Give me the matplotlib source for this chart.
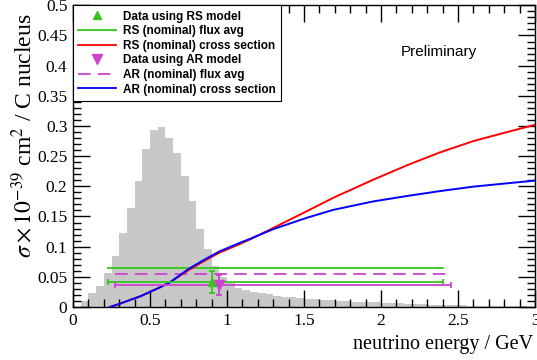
import numpy as np
import matplotlib
matplotlib.use("Agg")
import matplotlib.pyplot as plt
from matplotlib.ticker import MultipleLocator
from matplotlib.lines import Line2D

# ---------------- data ----------------
flux_edges_start = 0.05
flux_bin_width = 0.05
flux_values = [0.010, 0.023, 0.035, 0.056, 0.085, 0.123, 0.164, 0.208, 0.262, 0.294,
               0.299, 0.280, 0.256, 0.217, 0.176, 0.130, 0.096, 0.068, 0.050,
               0.039, 0.032, 0.028, 0.025, 0.023, 0.021, 0.019, 0.017, 0.016, 0.015,
               0.014, 0.013, 0.012, 0.011, 0.010, 0.0095, 0.009, 0.0085, 0.008, 0.0075,
               0.007, 0.0065, 0.006, 0.0055, 0.005, 0.0045, 0.004, 0.0035, 0.003, 0.0028,
               0.0025, 0.0022, 0.002, 0.0018, 0.0016, 0.0014, 0.0012, 0.001, 0.0009, 0.0008]

energy = [0.24, 0.30, 0.37, 0.44, 0.50, 0.56, 0.63, 0.69, 0.75, 0.85, 0.95, 1.08, 1.15,
          1.30, 1.52, 1.69, 1.95, 2.17, 2.38, 2.60, 2.82, 3.0]
rs_xsec = [0.0, 0.005, 0.0116, 0.018, 0.025, 0.032, 0.041, 0.051, 0.061, 0.076, 0.090, 0.104,
           0.112, 0.131, 0.159, 0.181, 0.211, 0.235, 0.256, 0.275, 0.290, 0.302]
ar_xsec = [0.0, 0.005, 0.0116, 0.018, 0.025, 0.032, 0.041, 0.052, 0.063, 0.078, 0.092, 0.106,
           0.113, 0.129, 0.148, 0.161, 0.175, 0.184, 0.192, 0.1995, 0.205, 0.2095]

rs_fluxavg_y = 0.064
rs_fluxavg_x = [0.23, 2.40]
ar_fluxavg_y = 0.054
ar_fluxavg_x = [0.27, 2.45]

rs_data_x, rs_data_y = 0.90, 0.041
rs_data_yerr = 0.018
rs_data_xerr = [0.675, 1.505]
ar_data_x, ar_data_y = 0.95, 0.036
ar_data_yerr = 0.0165
ar_data_xerr = [0.68, 1.505]

legend_labels = ["Data using RS model", "RS (nominal) flux avg", "RS (nominal) cross section",
                 "Data using AR model", "AR (nominal) flux avg", "AR (nominal) cross section"]

green = "#33c61e"
magenta = "#cc44cc"

# ---------------- figure ----------------
plt.rcParams['mathtext.fontset'] = 'stix'
fig = plt.figure(figsize=(5.37, 3.6), dpi=100)
ax = fig.add_axes([73/537, 1-307/360, 462/537, 301.7/360])

edges = flux_edges_start + flux_bin_width*np.arange(len(flux_values)+1)
ax.stairs(flux_values, edges, fill=True, color="#c8c8c8", lw=0, zorder=1)

ax.plot(energy, rs_xsec, color="red", lw=1.4, zorder=3)
ax.plot(energy, ar_xsec, color="blue", lw=1.4, zorder=3)

ax.plot(rs_fluxavg_x, [rs_fluxavg_y]*2, color=green, lw=1.3, zorder=2)
ax.plot(ar_fluxavg_x, [ar_fluxavg_y]*2, color=magenta, lw=1.3, ls=(0, (7, 4)), zorder=2)

ax.errorbar([rs_data_x], [rs_data_y], yerr=rs_data_yerr,
            xerr=[[rs_data_xerr[0]], [rs_data_xerr[1]]], fmt='^', color=green,
            ms=6, lw=1.3, capsize=2.5, capthick=1.3, zorder=4)
ax.errorbar([ar_data_x], [ar_data_y], yerr=ar_data_yerr,
            xerr=[[ar_data_xerr[0]], [ar_data_xerr[1]]], fmt='v', color=magenta,
            ms=7, lw=1.3, capsize=2.5, capthick=1.3, zorder=4)

ax.set_xlim(0, 3)
ax.set_ylim(0, 0.5)
ax.xaxis.set_major_locator(MultipleLocator(0.5))
ax.xaxis.set_minor_locator(MultipleLocator(0.1))
ax.yaxis.set_major_locator(MultipleLocator(0.05))
ax.yaxis.set_minor_locator(MultipleLocator(0.01))
ax.tick_params(which='both', direction='in', top=True, right=True, width=1)
ax.tick_params(which='major', length=12)
ax.tick_params(which='minor', length=6)
ax.tick_params(axis='both', labelsize=12.5, pad=4)
for lab in ax.get_xticklabels() + ax.get_yticklabels():
    lab.set_family('Liberation Serif')

def fmt(v, pos):
    s = f"{v:.2f}".rstrip('0').rstrip('.')
    return s
ax.xaxis.set_major_formatter(plt.FuncFormatter(fmt))
ax.yaxis.set_major_formatter(plt.FuncFormatter(fmt))

for sp in ax.spines.values():
    sp.set_linewidth(1)

fig.text(533/537, 1-345/360, "neutrino energy / GeV", ha='right', va='center',
         fontsize=14.5, family='Liberation Serif')

fig.text(24/537, 1-13/360, r"$\sigma\times10^{-39}$ cm$^{2}$ / C nucleus", rotation=90,
         ha='center', va='top', fontsize=17, family='Liberation Serif')

fig.text(401/537, 1-52/360, "Preliminary", ha='left', va='center',
         fontsize=11, family='Liberation Sans')

handles = [
    Line2D([], [], marker='^', color=green, ls='none', ms=6),
    Line2D([], [], color=green, lw=1.3),
    Line2D([], [], color='red', lw=1.3),
    Line2D([], [], marker='v', color=magenta, ls='none', ms=7),
    Line2D([], [], color=magenta, lw=1.3, ls=(0, (7, 4))),
    Line2D([], [], color='blue', lw=1.3),
]
leg = ax.legend(handles, legend_labels, loc='upper left', bbox_to_anchor=(0, 1), borderaxespad=0,
                fancybox=False, edgecolor='black', framealpha=1, handlelength=3.2,
                handletextpad=0.6, borderpad=0.45, labelspacing=0.22,
                prop={'family': 'Liberation Sans', 'weight': 'bold', 'size': 8.5})
leg.get_frame().set_linewidth(0.8)

fig.savefig("out.png", dpi=100)
